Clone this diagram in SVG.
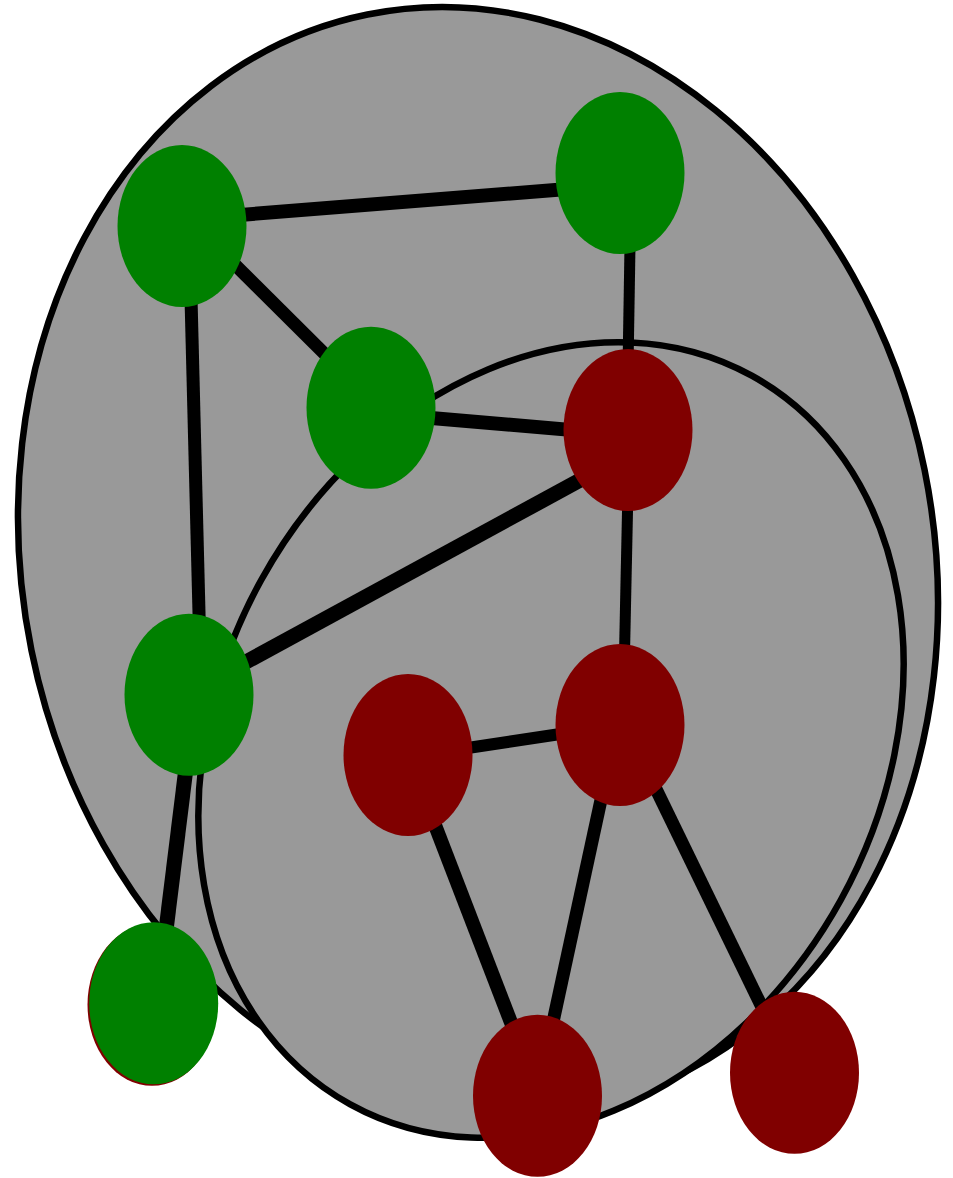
<svg xmlns="http://www.w3.org/2000/svg" width="953" height="1178" viewBox="0 0 953 1178">
  <style>
    .hull { fill: #999999; stroke: #000000; stroke-width: 6.5; }
    .edge { stroke: #000000; stroke-linecap: butt; fill: none; }
    .green { fill: #008000; }
    .red { fill: #800000; }
  </style>

  <!-- group hulls: the large outer region and the inner loop drawn over it -->
  <g id="hulls">
    <ellipse id="hull-outer" class="hull" cx="478" cy="560" rx="455.6" ry="556.6" transform="rotate(-11.45 478 560)"/>
    <ellipse id="hull-inner" class="hull" cx="551" cy="740" rx="331" ry="416" transform="rotate(28.85 551 740)"/>
  </g>

  <!-- links -->
  <g id="edges">
    <line class="edge" x1="189" y1="219" x2="630" y2="184" stroke-width="14"/>
    <line class="edge" x1="189" y1="219" x2="365" y2="394" stroke-width="13"/>
    <line class="edge" x1="189" y1="219" x2="200.5" y2="672" stroke-width="13"/>
    <line class="edge" x1="631" y1="184" x2="627" y2="430" stroke-width="11"/>
    <line class="edge" x1="370" y1="412.7" x2="628" y2="434.9" stroke-width="14"/>
    <line class="edge" x1="628" y1="454" x2="189" y2="693" stroke-width="15"/>
    <line class="edge" x1="629" y1="440" x2="623" y2="725" stroke-width="11"/>
    <line class="edge" x1="408" y1="757" x2="620" y2="725" stroke-width="12"/>
    <line class="edge" x1="620" y1="712" x2="537" y2="1096" stroke-width="13"/>
    <line class="edge" x1="620" y1="715" x2="794" y2="1073" stroke-width="13"/>
    <line class="edge" x1="408" y1="755" x2="537" y2="1090" stroke-width="14"/>
    <line class="edge" x1="195" y1="695" x2="157" y2="1003" stroke-width="15"/>
  </g>

  <!-- nodes -->
  <g id="node-g1"><ellipse class="green" cx="182" cy="226" rx="64.5" ry="81"/></g>
  <g id="node-g2"><ellipse class="green" cx="620" cy="173" rx="64.5" ry="81"/></g>
  <g id="node-g3"><ellipse class="green" cx="371" cy="407.7" rx="64.5" ry="81"/></g>
  <g id="node-r1"><ellipse class="red" cx="628" cy="430" rx="64.5" ry="81"/></g>
  <g id="node-g4"><ellipse class="green" cx="189" cy="694.7" rx="64.5" ry="81"/></g>
  <g id="node-r2"><ellipse class="red" cx="620" cy="725" rx="64.5" ry="81"/></g>
  <g id="node-r3"><ellipse class="red" cx="408" cy="755" rx="64.5" ry="81"/></g>
  <g id="node-r6"><ellipse class="red" cx="152" cy="1004.8" rx="64.5" ry="81"/></g>
  <g id="node-g5"><ellipse class="green" cx="153.7" cy="1003.3" rx="64.5" ry="81"/></g>
  <g id="node-r4"><ellipse class="red" cx="537.5" cy="1095.8" rx="64.5" ry="81"/></g>
  <g id="node-r5"><ellipse class="red" cx="794.5" cy="1072.8" rx="64.5" ry="81"/></g>
</svg>
